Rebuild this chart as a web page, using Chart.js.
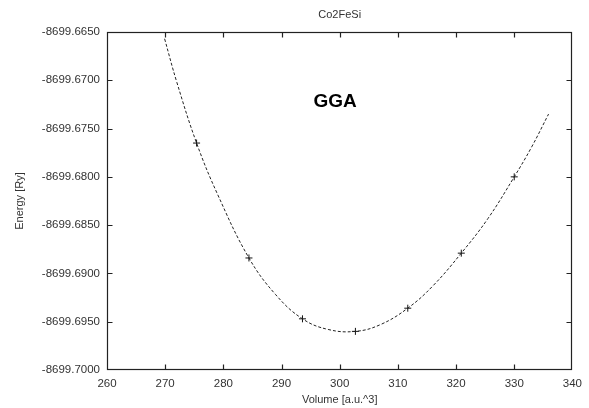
<!DOCTYPE html>
<html><head><meta charset="utf-8">
<script src="https://cdn.jsdelivr.net/npm/chart.js@4.4.1/dist/chart.umd.min.js"></script>
<style>html,body{margin:0;padding:0;background:#fff}#wrap{width:589px;height:408px;position:relative}</style>
</head><body><div id="wrap"><canvas id="c" width="589" height="408"></canvas></div>
<script>
const chartTitle = 'Co2FeSi';
const xTitle = 'Volume [a.u.^3]';
const yTitle = 'Energy [Ry]';
const xTicks = [260, 270, 280, 290, 300, 310, 320, 330, 340];
const yTicks = [-8699.7000, -8699.6950, -8699.6900, -8699.6850, -8699.6800, -8699.6750, -8699.6700, -8699.6650];

// calculated points (+ markers)
const dataVolume = [275.4, 284.4, 293.6, 302.7, 311.7, 320.9, 330.0];
const dataEnergy = [-8699.6765, -8699.6884, -8699.6947, -8699.6960, -8699.6936, -8699.6879, -8699.6800];

// fitted curve
const fitVolume = [269.9, 272.0, 275.4, 279.0, 284.4, 289.0, 293.6, 298.0, 302.7, 307.0, 311.7, 316.0, 320.9, 325.5, 330.0, 333.0, 335.9];
const fitEnergy = [-8699.6657, -8699.6702, -8699.6765, -8699.6818, -8699.6884, -8699.6922, -8699.6947, -8699.6958, -8699.6960, -8699.6953, -8699.6936, -8699.6913, -8699.6879, -8699.6843, -8699.6800, -8699.6769, -8699.6735];

const annotationText = 'GGA';
const annotationX = 299.2;
const annotationY = -8699.6722;

const FONT = '"Liberation Sans", Arial, Helvetica, sans-serif';
const TEXT = '#333';

const framePlugin = {
  id: 'frame',
  afterDraw(chart) {
    const {ctx, chartArea: a, scales} = chart;
    const L = Math.round(a.left) + 0.5, R = Math.round(a.right) - 0.5;
    const T = Math.round(a.top) + 0.5, B = Math.round(a.bottom) - 0.5;
    ctx.save();
    ctx.strokeStyle = '#222';
    ctx.lineWidth = 1.2;
    ctx.strokeRect(L, T, R - L, B - T);
    const tl = 5;
    ctx.beginPath();
    xTicks.forEach(v => {
      const x = Math.round(scales.x.getPixelForValue(v)) + 0.5;
      if (x <= L + 1 || x >= R - 1) return;
      ctx.moveTo(x, B); ctx.lineTo(x, B - tl);
      ctx.moveTo(x, T); ctx.lineTo(x, T + tl);
    });
    yTicks.forEach(v => {
      const y = Math.round(scales.y.getPixelForValue(v)) + 0.5;
      if (y <= T + 1 || y >= B - 1) return;
      ctx.moveTo(L, y); ctx.lineTo(L + tl, y);
      ctx.moveTo(R, y); ctx.lineTo(R - tl, y);
    });
    ctx.stroke();
    // title
    ctx.fillStyle = TEXT;
    ctx.font = '11px ' + FONT;
    ctx.textAlign = 'center';
    ctx.textBaseline = 'middle';
    ctx.fillText(chartTitle, (a.left + a.right) / 2, 15);
    // annotation
    ctx.fillStyle = '#000';
    ctx.font = 'bold 19px ' + FONT;
    ctx.fillText(annotationText, scales.x.getPixelForValue(annotationX), scales.y.getPixelForValue(annotationY));
    ctx.restore();
  }
};

new Chart(document.getElementById('c'), {
  type: 'scatter',
  data: {
    datasets: [
      {
        label: 'fit',
        data: fitVolume.map((x, i) => ({x, y: fitEnergy[i]})),
        showLine: true,
        borderColor: '#222',
        borderWidth: 1,
        borderDash: [3, 2],
        pointRadius: 0,
        tension: 0.4,
        fill: false
      },
      {
        label: 'calc',
        data: dataVolume.map((x, i) => ({x, y: dataEnergy[i]})),
        showLine: false,
        pointStyle: 'cross',
        pointRadius: 3.5,
        borderColor: '#111',
        backgroundColor: '#111',
        pointBorderWidth: 1
      }
    ]
  },
  options: {
    responsive: false,
    animation: false,
    devicePixelRatio: 1,
    layout: {padding: {left: 0, right: 16, top: 32, bottom: 0}},
    plugins: {legend: {display: false}, tooltip: {enabled: false}, title: {display: false}},
    scales: {
      x: {
        type: 'linear', min: 260, max: 340,
        afterBuildTicks: s => { s.ticks = xTicks.map(v => ({value: v})); },
        afterFit: s => { s.height = 38; },
        grid: {display: false, drawTicks: false},
        border: {display: false},
        ticks: {padding: 7, color: TEXT, font: {family: FONT, size: 11.5}, callback: v => String(v)},
        title: {display: true, text: xTitle, color: TEXT, font: {family: FONT, size: 11}, padding: {top: 0, bottom: 1.4}}
      },
      y: {
        type: 'linear', min: -8699.7, max: -8699.665,
        afterBuildTicks: s => { s.ticks = yTicks.map(v => ({value: v})); },
        afterFit: s => { s.width = 107; },
        grid: {display: false, drawTicks: false},
        border: {display: false},
        ticks: {padding: 7, color: TEXT, font: {family: FONT, size: 11.5}, callback: v => Number(v).toFixed(4)},
        title: {display: true, text: yTitle, color: TEXT, font: {family: FONT, size: 11}, padding: {top: 13.4, bottom: 0}}
      }
    }
  },
  plugins: [framePlugin]
});
</script>
</body></html>
